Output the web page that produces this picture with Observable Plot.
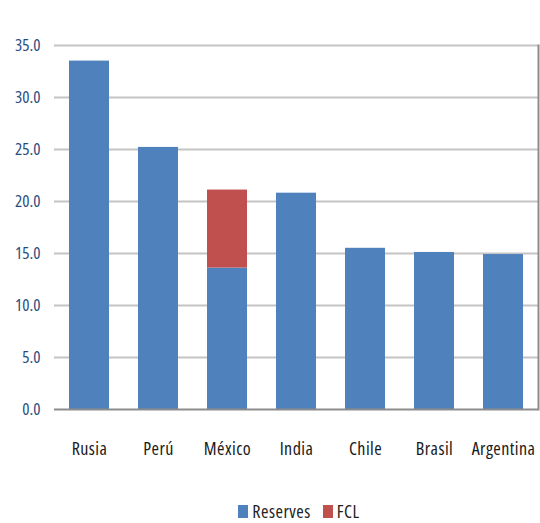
<!DOCTYPE html>
<html>
<head>
<meta charset="utf-8">
<script src="https://cdn.jsdelivr.net/npm/d3@7"></script>
<script src="https://cdn.jsdelivr.net/npm/@observablehq/plot@0.6"></script>
<style>
  html, body { margin: 0; padding: 0; background: #fff; }
  #chart { width: 540px; }
  #chart svg text { font-stretch: condensed; }
  #chart svg g[aria-label="x-axis tick label"] { font-size: 18px; letter-spacing: 0.45px; }
  .legend {
    display: flex; justify-content: center; align-items: center;
    font-family: "Open Sans", sans-serif; font-stretch: condensed; letter-spacing: 0.5px;
    font-size: 18px; line-height: 18px; color: #222; margin-top: 27px; padding-left: 58px;
  }
  .legend .item { display: flex; align-items: center; margin: 0 6px; }
  .legend .sw { width: 10px; height: 13px; margin-right: 4px; }
</style>
</head>
<body>
<div id="chart"></div>
<script>
// Reserves and Flexible Credit Line, percent
const countries = ["Rusia", "Perú", "México", "India", "Chile", "Brasil", "Argentina"];
const reserves = [33.5, 25.2, 13.6, 20.8, 15.5, 15.1, 14.9];
const fcl = [0, 0, 7.5, 0, 0, 0, 0];
const seriesNames = ["Reserves", "FCL"];
const seriesColors = ["#4f81bd", "#c0504d"];
const yTicks = [0, 5, 10, 15, 20, 25, 30, 35];

const rows = [];
countries.forEach((c, i) => {
  rows.push({country: c, series: "Reserves", value: reserves[i]});
  if (fcl[i] > 0) rows.push({country: c, series: "FCL", value: fcl[i]});
});

const font = '"Open Sans", sans-serif';

const chart = Plot.plot({
  width: 540,
  height: 475,
  marginLeft: 54,
  marginRight: 2,
  marginTop: 45,
  marginBottom: 66,
  style: {fontFamily: font, fontSize: "17px", background: "#fff"},
  x: {domain: countries, paddingInner: 0.42, paddingOuter: 0.21, label: null},
  y: {domain: [0, 35], label: null},
  color: {domain: seriesNames, range: seriesColors},
  marks: [
    Plot.gridY(yTicks.filter(d => d > 0), {stroke: "#c4c4c4", strokeOpacity: 1, strokeWidth: 2}),
    Plot.barY(rows, {x: "country", y: "value", fill: "series"}),
    Plot.ruleY([0], {stroke: "#8c8c8c", strokeWidth: 2}),
    Plot.frame({anchor: "right", stroke: "#8c8c8c", strokeWidth: 2}),
    Plot.axisY({ticks: yTicks, tickSize: 0, tickPadding: 14, tickFormat: d3.format(".1f"),
                fill: "#2c4d7f", label: null}),
    Plot.axisX({tickSize: 0, tickPadding: 33, fill: "#1a1a1a", label: null})
  ]
});
document.getElementById("chart").appendChild(chart);

// Legend below the chart
const legend = document.createElement("div");
legend.className = "legend";
seriesNames.forEach((name, i) => {
  const item = document.createElement("div");
  item.className = "item";
  const sw = document.createElement("span");
  sw.className = "sw";
  sw.style.background = seriesColors[i];
  const label = document.createElement("span");
  label.textContent = name;
  item.appendChild(sw);
  item.appendChild(label);
  legend.appendChild(item);
});
document.getElementById("chart").appendChild(legend);
</script>
</body>
</html>
